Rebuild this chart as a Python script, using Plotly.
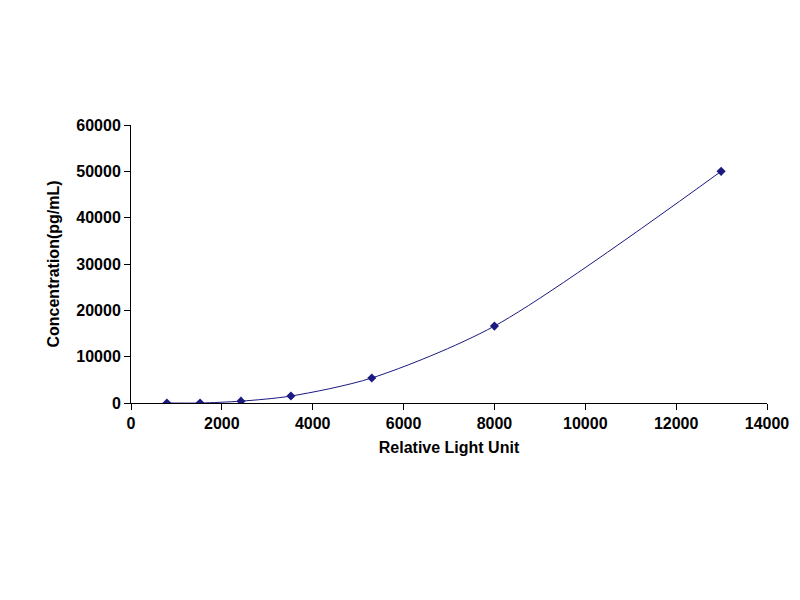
import plotly.graph_objects as go

rlu = [790, 1520, 2420, 3520, 5300, 8000, 12990]
conc = [0, 0, 400, 1500, 5400, 16600, 50000]
x_ticks = [0, 2000, 4000, 6000, 8000, 10000, 12000, 14000]
y_ticks = [0, 10000, 20000, 30000, 40000, 50000, 60000]

fig = go.Figure()
fig.add_trace(go.Scatter(x=rlu, y=conc, mode="lines+markers",
    line=dict(color="#1a1a80", width=1, shape="spline", smoothing=0.8),
    marker=dict(symbol="diamond", size=7, color="#1a1a80")))
axfont = dict(family="Arial, Liberation Sans", size=16, color="black")
fig.update_layout(
    width=800, height=600, paper_bgcolor="white", plot_bgcolor="white",
    margin=dict(l=123, r=41, t=117, b=205), showlegend=False,
    xaxis=dict(range=[0, 14000], tickvals=x_ticks, ticktext=[f"<b>{v}</b>" for v in x_ticks],
               showline=True, linecolor="black",
               ticks="outside", ticklen=6, tickcolor="black", showgrid=False, zeroline=False,
               tickfont=axfont, title=dict(text="<b>Relative Light Unit</b>", font=axfont, standoff=10)),
    yaxis=dict(range=[0, 60000], tickvals=y_ticks, ticktext=[f"<b>{v}</b>" for v in y_ticks],
               showline=True, linecolor="black",
               ticks="outside", ticklen=6, tickcolor="black", showgrid=False, zeroline=False,
               tickfont=axfont, title=dict(text="<b>Concentration(pg/mL)</b>", font=axfont, standoff=12)),
)
fig.write_html("out.html")
